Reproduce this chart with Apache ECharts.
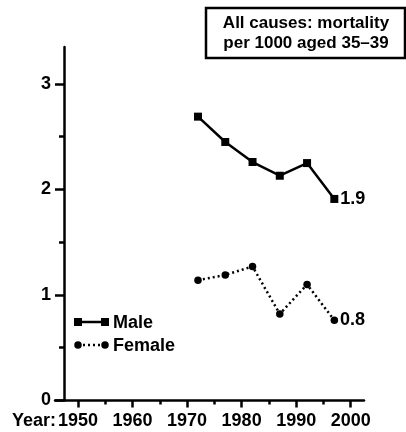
<!DOCTYPE html>
<html><head><meta charset="utf-8">
<script src="https://cdn.jsdelivr.net/npm/echarts@6/dist/echarts.min.js"></script>
<style>html,body{margin:0;padding:0;background:#fff}#c{width:406px;height:432px}</style>
</head><body><div id="c"></div>
<script>
const years = [1972, 1977, 1982, 1987, 1992, 1997];
const male = [2.69, 2.45, 2.26, 2.13, 2.25, 1.91];
const female = [1.14, 1.19, 1.27, 0.82, 1.10, 0.76];
const xMajor = [1950, 1960, 1970, 1980, 1990, 2000];
const xMinor = [1955, 1965, 1975, 1985, 1995];
const yMajor = [0, 1, 2, 3];
const yMinor = [0.5, 1.5, 2.5];
const titleLines = ['All causes: mortality', 'per 1000 aged 35\u201339'];
const seriesNames = ['Male', 'Female'];

const FONT = 'Liberation Sans';
const FS = 18;
const TFS = 17;
const LW = 2.5;
const chart = echarts.init(document.getElementById('c'), null, {renderer: 'canvas'});

function seriesData(vals) {
  return years.map((y, i) => {
    const d = {value: [y, vals[i]]};
    if (i === years.length - 1) {
      d.label = {show: true, position: 'right', distance: 2, formatter: (p) => p.value[1].toFixed(1),
        color: '#000', fontFamily: FONT, fontWeight: 'bold', fontSize: FS};
    }
    return d;
  });
}

const xBase = {type: 'value', min: 1945.78, max: 2002.44, position: 'bottom', splitLine: {show: false}};
const yBase = {type: 'value', min: 0, max: 3.35, position: 'left', offset: -9, splitLine: {show: false}};

chart.setOption({
  animation: false,
  backgroundColor: '#fff',
  grid: {left: 55, right: 42, top: 47, bottom: 31.5, containLabel: false},
  xAxis: [
    Object.assign({}, xBase, {
      axisLine: {show: true, lineStyle: {color: '#000', width: LW}},
      axisTick: {show: true, customValues: xMajor, length: 7, lineStyle: {color: '#000', width: LW}},
      axisLabel: {show: true, customValues: xMajor, margin: 12, color: '#000', fontFamily: FONT, fontWeight: 'bold', fontSize: FS,
        formatter: (v) => String(Math.round(v))}
    }),
    Object.assign({}, xBase, {
      axisLine: {show: false},
      axisTick: {show: true, customValues: xMinor, length: 4, lineStyle: {color: '#000', width: LW}},
      axisLabel: {show: false}
    })
  ],
  yAxis: [
    Object.assign({}, yBase, {
      axisLine: {show: true, lineStyle: {color: '#000', width: LW}},
      axisTick: {show: true, customValues: yMajor, length: 9, lineStyle: {color: '#000', width: LW}},
      axisLabel: {show: true, customValues: yMajor, margin: 13, color: '#000', fontFamily: FONT, fontWeight: 'bold', fontSize: FS,
        formatter: (v) => String(Math.round(v))}
    }),
    Object.assign({}, yBase, {
      axisLine: {show: false},
      axisTick: {show: true, customValues: yMinor, length: 5, lineStyle: {color: '#000', width: LW}},
      axisLabel: {show: false}
    })
  ],
  series: [
    {name: seriesNames[0], type: 'line', data: seriesData(male), symbol: 'rect', symbolSize: 8,
      lineStyle: {color: '#000', width: LW}, itemStyle: {color: '#000'}},
    {name: seriesNames[1], type: 'line', data: seriesData(female), symbol: 'circle', symbolSize: 7.5,
      lineStyle: {color: '#000', width: LW, type: [2, 3]}, itemStyle: {color: '#000'}}
  ],
  graphic: [
    {type: 'rect', shape: {x: 206, y: 8, width: 199, height: 50}, style: {fill: '#fff', stroke: '#000', lineWidth: LW}},
    {type: 'text', x: 306, y: 33, style: {text: titleLines.join('\n'), lineHeight: 20, align: 'center', verticalAlign: 'middle',
      fill: '#000', font: 'bold ' + TFS + 'px "' + FONT + '"'}},
    {type: 'line', shape: {x1: 78, y1: 322, x2: 105, y2: 322}, style: {stroke: '#000', lineWidth: LW}},
    {type: 'rect', shape: {x: 74, y: 318, width: 8, height: 8}, style: {fill: '#000'}},
    {type: 'rect', shape: {x: 101, y: 318, width: 8, height: 8}, style: {fill: '#000'}},
    {type: 'text', x: 113, y: 323, style: {text: seriesNames[0], verticalAlign: 'middle', fill: '#000', font: 'bold ' + FS + 'px "' + FONT + '"'}},
    {type: 'line', shape: {x1: 78, y1: 345, x2: 105, y2: 345}, style: {stroke: '#000', lineWidth: LW, lineDash: [2, 3]}},
    {type: 'circle', shape: {cx: 78, cy: 345, r: 3.75}, style: {fill: '#000'}},
    {type: 'circle', shape: {cx: 105, cy: 345, r: 3.75}, style: {fill: '#000'}},
    {type: 'text', x: 113, y: 346, style: {text: seriesNames[1], verticalAlign: 'middle', fill: '#000', font: 'bold ' + FS + 'px "' + FONT + '"'}},
    {type: 'text', x: 56, y: 421, style: {text: 'Year:', align: 'right', verticalAlign: 'middle', fill: '#000', font: 'bold ' + FS + 'px "' + FONT + '"'}}
  ]
});
</script></body></html>
